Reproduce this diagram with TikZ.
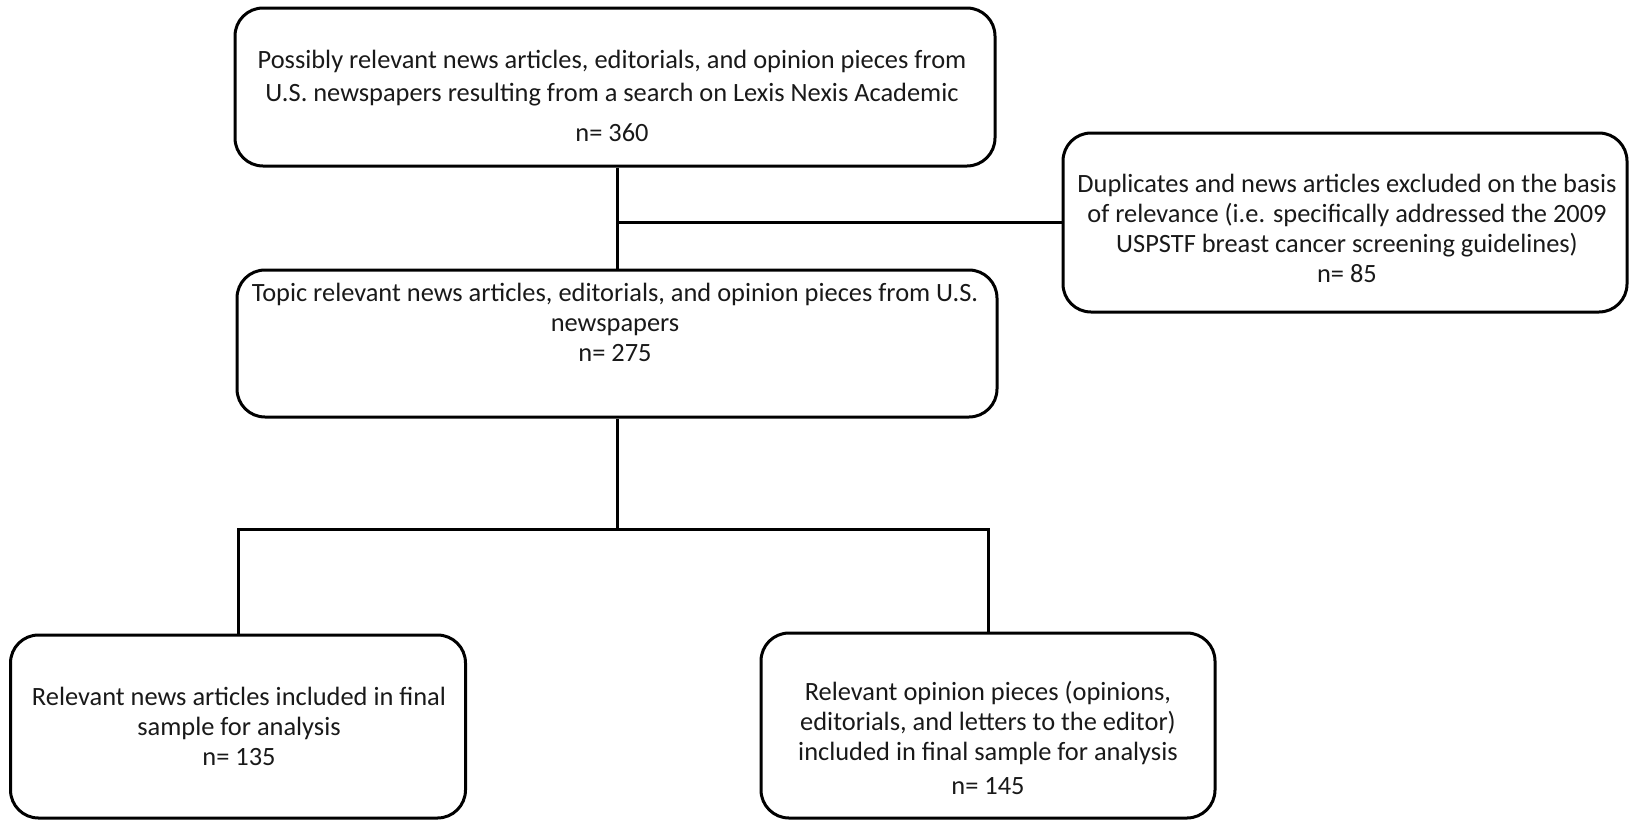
\documentclass[tikz,border=0pt]{standalone}
\usepackage{fontspec}
\setmainfont{Carlito}
\usetikzlibrary{calc}
\begin{document}
\begin{tikzpicture}[x=0.5pt,y=-0.5pt,
  box/.style={draw=black, line width=1.5pt, rounded corners=14pt, inner sep=0pt},
  txt/.style={align=center, font=\fontsize{13.2}{15}\selectfont, text=black!90, inner sep=0pt},
  conn/.style={draw=black, line width=1.5pt}]
\useasboundingbox (0,0) rectangle (1629,820);
% boxes
\node[box, minimum width=380pt, minimum height=79pt] (top) at (615,87) {};
\node[box, minimum width=282pt, minimum height=89.5pt] (right) at (1345,222.5) {};
\node[box, minimum width=380pt, minimum height=73.5pt] (mid) at (617,343.5) {};
\node[box, minimum width=227.5pt, minimum height=91.5pt] (bl) at (238,726.5) {};
\node[box, minimum width=227pt, minimum height=92.5pt] (br) at (988,725.5) {};
% texts
\node[txt] (toptxt) at (612,96) {Possibly relevant news articles, editorials, and opinion pieces from\\[1.6pt]U.S. newspapers resulting from a search on Lexis Nexis Academic\\[5.3pt]n= 360};
\node[txt] (righttxt) at (1347,228) {Duplicates and news articles excluded on the basis\\of relevance (i.e. specifically addressed the 2009\\USPSTF breast cancer screening guidelines)\\n= 85};
\node[txt] (midtxt) at (615,322) {Topic relevant news articles, editorials, and opinion pieces from U.S.\\newspapers\\n= 275};
\node[txt] (bltxt) at (239,726) {Relevant news articles included in final\\sample for analysis\\n= 135};
\node[txt] (brtxt) at (988,738) {Relevant opinion pieces (opinions,\\editorials, and letters to the editor)\\included in final sample for analysis\\[2pt]n= 145};
% connectors
\coordinate (branch) at (617,222.5);
\coordinate (split) at (617,529);
\draw[conn] (top.south -| mid.north) -- (mid.north);
\draw[conn] (branch) -- (right.west);
\draw[conn] (mid.south) -- (split);
\draw[conn] (bl.north) -- (bl.north |- split) -- (br.north |- split) -- (br.north);
\end{tikzpicture}
\end{document}
